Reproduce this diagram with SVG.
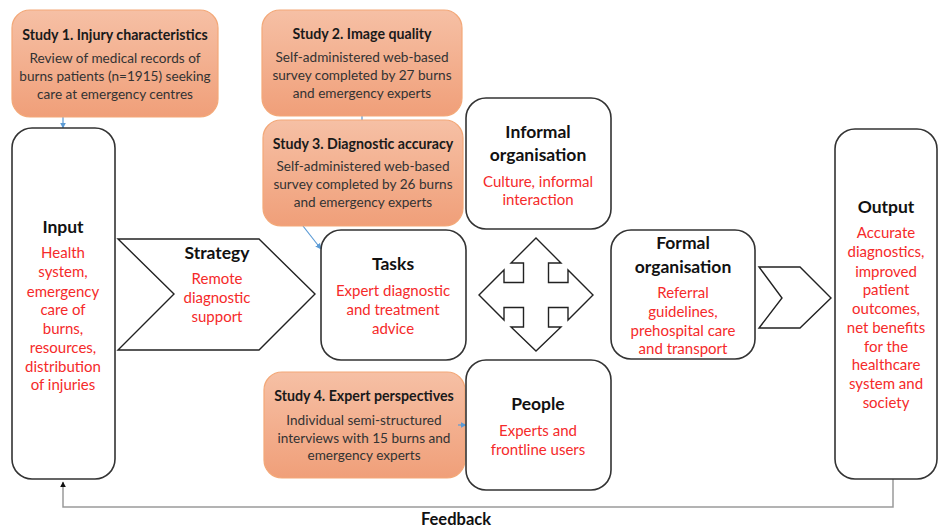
<svg xmlns="http://www.w3.org/2000/svg" width="939" height="528" viewBox="0 0 939 528">
  <defs>
    <linearGradient id="studyFill" x1="0" y1="0" x2="0" y2="1">
      <stop offset="0" stop-color="#f6c0a5"/>
      <stop offset="1" stop-color="#f09f79"/>
    </linearGradient>
    <marker id="blueHead" viewBox="0 0 10 10" refX="9" refY="5" markerWidth="6" markerHeight="6" orient="auto" markerUnits="userSpaceOnUse">
      <path d="M0,0 L10,5 L0,10 z" fill="#5b9bd5"/>
    </marker>
    <marker id="blackHead" viewBox="0 0 10 10" refX="9" refY="5" markerWidth="6" markerHeight="6" orient="auto" markerUnits="userSpaceOnUse">
      <path d="M0,0 L10,5 L0,10 z" fill="#111"/>
    </marker>
  </defs>
  <style>
    text { font-family: Lato, "Liberation Sans", sans-serif; text-anchor: middle; }
    .study { fill: url(#studyFill); stroke: #f3a878; stroke-width: 1.2; }
    .box { fill: #fff; stroke: #333; stroke-width: 1.6; }
    .shape { fill: #fff; stroke: #222; stroke-width: 1.4; stroke-linejoin: miter; }
    .st { font-size: 14.2px; font-weight: bold; fill: #1a1a1a; }
    .sb { font-size: 13.6px; fill: #333; }
    .ttl { font-size: 17.5px; font-weight: bold; fill: #111; }
    .red { font-size: 15px; fill: #f52a2a; }
    .link { fill: none; stroke: #5b9bd5; stroke-width: 1.2; }
    .fb { fill: none; stroke: #9a9a9a; stroke-width: 1.5; }
  </style>

  <rect width="939" height="528" fill="#fff"/>

  <!-- feedback loop and study links -->
  <g id="connectors">
    <polyline class="fb" points="893,479 893,507 63,507 63,482" marker-end="url(#blackHead)"/>
    <line class="link" x1="63" y1="117" x2="63" y2="128" marker-end="url(#blueHead)"/>
    <line class="link" x1="362" y1="116" x2="362" y2="121"/>
    <line class="link" x1="303" y1="226" x2="321" y2="249" marker-end="url(#blueHead)"/>
  </g>

  <g id="study1">
    <rect class="study" x="12" y="10" width="206" height="107" rx="18"/>
    <text class="st" x="115" y="40">Study 1. Injury characteristics</text>
    <text class="sb" x="115" y="63">Review of medical records of</text>
    <text class="sb" x="115" y="81">burns patients (n=1915) seeking</text>
    <text class="sb" x="115" y="99">care at emergency centres</text>
  </g>

  <g id="study2">
    <rect class="study" x="262" y="10" width="200" height="106" rx="18"/>
    <text class="st" x="362" y="39">Study 2. Image quality</text>
    <text class="sb" x="362" y="62">Self-administered web-based</text>
    <text class="sb" x="362" y="80">survey completed by 27 burns</text>
    <text class="sb" x="362" y="98">and emergency experts</text>
  </g>

  <g id="study3">
    <rect class="study" x="263" y="120" width="200" height="106" rx="18"/>
    <text class="st" x="363" y="149">Study 3. Diagnostic accuracy</text>
    <text class="sb" x="363" y="171">Self-administered web-based</text>
    <text class="sb" x="363" y="189">survey completed by 26 burns</text>
    <text class="sb" x="363" y="207">and emergency experts</text>
  </g>

  <g id="input">
    <rect class="box" x="12" y="128" width="103" height="351" rx="20"/>
    <text class="ttl" x="63" y="233">Input</text>
    <text class="red" x="63" y="258">Health</text>
    <text class="red" x="63" y="277">system,</text>
    <text class="red" x="63" y="297">emergency</text>
    <text class="red" x="63" y="315">care of</text>
    <text class="red" x="63" y="334">burns,</text>
    <text class="red" x="63" y="353">resources,</text>
    <text class="red" x="63" y="372">distribution</text>
    <text class="red" x="63" y="390">of injuries</text>
  </g>

  <g id="strategy">
    <polygon class="shape" points="118,239 259,239 315,294 259,350 118,350 174,294"/>
    <text class="ttl" x="217" y="259">Strategy</text>
    <text class="red" x="217" y="284">Remote</text>
    <text class="red" x="217" y="303">diagnostic</text>
    <text class="red" x="217" y="322">support</text>
  </g>

  <g id="tasks">
    <rect class="box" x="321" y="230" width="145" height="130" rx="20"/>
    <text class="ttl" x="393" y="270">Tasks</text>
    <text class="red" x="393" y="296">Expert diagnostic</text>
    <text class="red" x="393" y="315">and treatment</text>
    <text class="red" x="393" y="334">advice</text>
  </g>

  <g id="study4">
    <rect class="study" x="264" y="372" width="201" height="106" rx="18"/>
    <text class="st" x="364" y="401">Study 4. Expert perspectives</text>
    <text class="sb" x="364" y="425">Individual semi-structured</text>
    <text class="sb" x="364" y="443">interviews with 15 burns and</text>
    <text class="sb" x="364" y="460">emergency experts</text>
  </g>

  <g id="study4-link">
    <line class="link" x1="458" y1="425" x2="466" y2="425" marker-end="url(#blueHead)"/>
  </g>

  <g id="informal">
    <rect class="box" x="466" y="98" width="145" height="131" rx="20"/>
    <text class="ttl" x="538" y="138">Informal</text>
    <text class="ttl" x="538" y="161">organisation</text>
    <text class="red" x="538" y="187">Culture, informal</text>
    <text class="red" x="538" y="205">interaction</text>
  </g>

  <g id="people">
    <rect class="box" x="466" y="360" width="145" height="130" rx="20"/>
    <text class="ttl" x="538" y="410">People</text>
    <text class="red" x="538" y="436">Experts and</text>
    <text class="red" x="538" y="455">frontline users</text>
  </g>

  <!-- four-way arrow linking the work-system components -->
  <g id="quad-arrow">
    <polygon class="shape" points="536,238 561,263 548.5,263 548.5,282.5 568,282.5 568,270 593,295 568,320 568,307.5 548.5,307.5 548.5,327 561,327 536,351 511,327 523.5,327 523.5,307.5 504,307.5 504,320 479,295 504,270 504,282.5 523.5,282.5 523.5,263 511,263"/>
  </g>

  <g id="formal">
    <rect class="box" x="611" y="230" width="144" height="129" rx="20"/>
    <text class="ttl" x="683" y="249">Formal</text>
    <text class="ttl" x="683" y="273">organisation</text>
    <text class="red" x="683" y="298">Referral</text>
    <text class="red" x="683" y="317">guidelines,</text>
    <text class="red" x="683" y="336">prehospital care</text>
    <text class="red" x="683" y="354">and transport</text>
  </g>

  <g id="output-chevron">
    <polygon class="shape" points="759,267 800,267 831,298 800,328 759,328 782,298"/>
  </g>

  <g id="output">
    <rect class="box" x="835" y="129" width="102" height="350" rx="20"/>
    <text class="ttl" x="886" y="213">Output</text>
    <text class="red" x="886" y="238">Accurate</text>
    <text class="red" x="886" y="257">diagnostics,</text>
    <text class="red" x="886" y="277">improved</text>
    <text class="red" x="886" y="295">patient</text>
    <text class="red" x="886" y="314">outcomes,</text>
    <text class="red" x="886" y="333">net benefits</text>
    <text class="red" x="886" y="352">for the</text>
    <text class="red" x="886" y="370">healthcare</text>
    <text class="red" x="886" y="389">system and</text>
    <text class="red" x="886" y="408">society</text>
  </g>

  <g id="feedback-label">
    <text class="ttl" x="456" y="525" style="font-size:16.5px">Feedback</text>
  </g>
</svg>
